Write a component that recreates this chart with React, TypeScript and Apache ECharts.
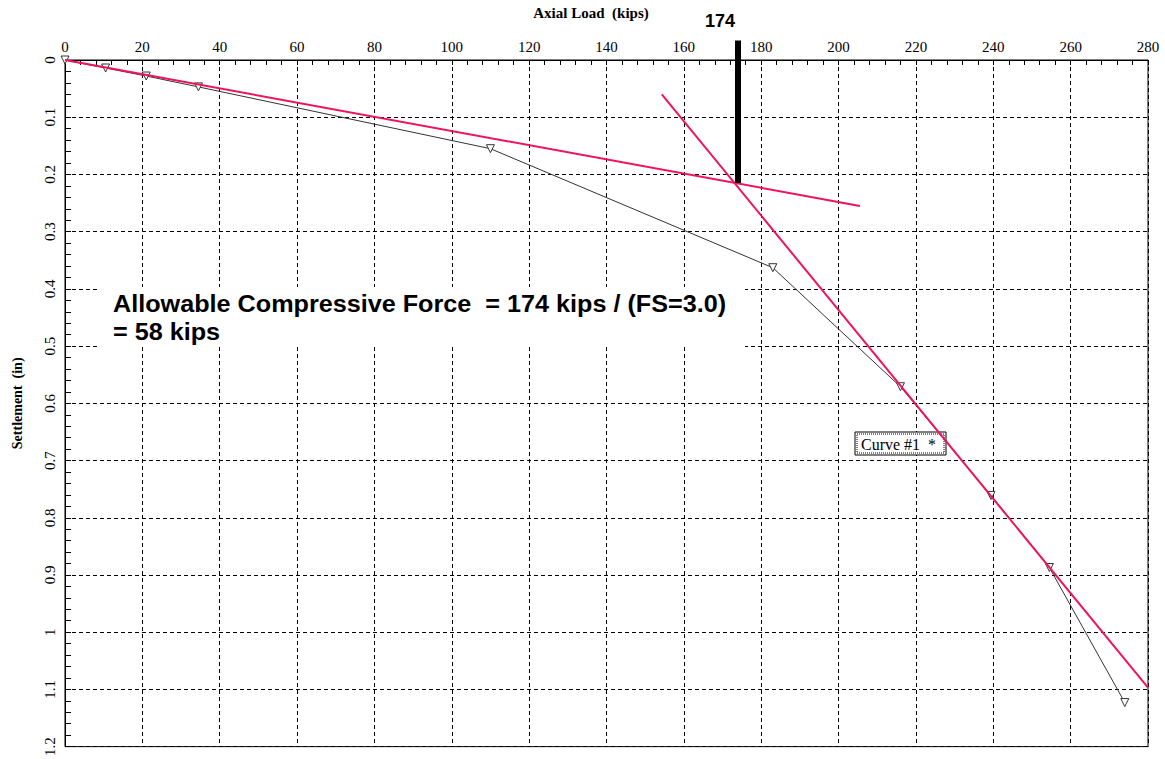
import React, { useEffect, useRef } from "react";
import * as echarts from "echarts";

const loads = [0, 10.5, 21, 34.5, 110, 183, 216, 239.4, 254.5, 274];
const settlements = [0, 0.014, 0.028, 0.047, 0.155, 0.363, 0.571, 0.761, 0.887, 1.123];

const tangentA = [
  [0, 0],
  [205.5, 0.255],
];
const tangentB = [
  [154.3, 0.06],
  [280, 1.097],
];
const failureLoad = 174;
const failureLine = [
  [174, -0.034],
  [174, 0.215],
];

const xTitle = "Axial Load  (kips)";
const yTitle = "Settlement  (in)";
const note1 = "Allowable Compressive Force  = 174 kips / (FS=3.0)";
const note2 = "= 58 kips";
const legendText = "Curve #1  *";

const RED = "#f0125f";
const SERIF = "'Liberation Serif', 'DejaVu Serif', serif";
const SANS = "'Liberation Sans', Arial, sans-serif";

export default function App() {
  const ref = useRef<HTMLDivElement>(null);
  useEffect(() => {
    if (!ref.current) return;
    const chart = echarts.init(ref.current, undefined, { renderer: "svg" });
    const gridLine = { show: true, lineStyle: { color: "#000", type: [4, 3], width: 1 } };
    chart.setOption({
      animation: false,
      backgroundColor: "#fff",
      grid: {
        left: 65,
        top: 60,
        right: 17,
        bottom: 12,
        show: true,
        borderColor: "#000",
        borderWidth: 1,
        backgroundColor: "transparent",
      },
      xAxis: {
        type: "value",
        position: "top",
        min: 0,
        max: 280,
        interval: 20,
        axisLine: { show: true, lineStyle: { color: "#000", width: 1 } },
        axisTick: { show: true, inside: true, length: 5, lineStyle: { color: "#000" } },
        minorTick: { show: true, splitNumber: 5, length: 5, lineStyle: { color: "#000" } },
        splitLine: gridLine,
        axisLabel: { color: "#000", fontFamily: SERIF, fontSize: 15, margin: 6 },
      },
      yAxis: {
        type: "value",
        inverse: true,
        min: 0,
        max: 1.2,
        interval: 0.1,
        axisLine: { show: true, lineStyle: { color: "#000", width: 1 } },
        axisTick: { show: true, inside: true, length: 6, lineStyle: { color: "#000" } },
        minorTick: { show: true, splitNumber: 5, length: 6, lineStyle: { color: "#000" } },
        splitLine: gridLine,
        axisLabel: {
          color: "#000",
          fontFamily: SERIF,
          fontSize: 15,
          rotate: 90,
          margin: 8,
        },
        name: yTitle,
        nameLocation: "middle",
        nameRotate: 90,
        nameGap: 41,
        nameTextStyle: { color: "#000", fontFamily: SERIF, fontSize: 14, fontWeight: "bold" },
      },
      series: [
        {
          type: "line",
          data: loads.map((l, i) => [l, settlements[i]]),
          symbol: "triangle",
          symbolRotate: 180,
          symbolSize: 8,
          itemStyle: { color: "#fff", borderColor: "#333", borderWidth: 1 },
          lineStyle: { color: "#333", width: 1 },
          z: 3,
        },
        {
          type: "line",
          data: tangentA,
          symbol: "none",
          lineStyle: { color: RED, width: 2 },
          z: 4,
        },
        {
          type: "line",
          data: tangentB,
          symbol: "none",
          lineStyle: { color: RED, width: 2 },
          z: 4,
        },
        {
          type: "line",
          data: failureLine,
          symbol: "none",
          clip: false,
          lineStyle: { color: "#000", width: 6, cap: "butt" },
          z: 5,
        },
      ],
    });

    const p = (x: number, y: number) => chart.convertToPixel({ gridIndex: 0 }, [x, y]) as number[];
    const lbl = p(failureLoad, -0.034);
    chart.setOption({
      graphic: [
        {
          type: "text",
          x: 591,
          y: 13,
          style: {
            text: xTitle,
            fill: "#000",
            font: `bold 15px ${SERIF}`,
            textAlign: "center",
            textVerticalAlign: "middle",
          },
        },
        {
          type: "text",
          x: lbl[0] - 18,
          y: lbl[1] - 20,
          style: {
            text: String(failureLoad),
            fill: "#000",
            font: `bold 18px ${SANS}`,
            textAlign: "center",
            textVerticalAlign: "middle",
          },
        },
        {
          type: "rect",
          shape: { x: 100, y: 287, width: 645, height: 60 },
          style: { fill: "#fff" },
          z: 1,
        },
        {
          type: "text",
          x: 113,
          y: 304,
          scaleX: 1.05,
          style: {
            text: note1,
            fill: "#000",
            font: `bold 24px ${SANS}`,
            textVerticalAlign: "middle",
          },
          z: 6,
        },
        {
          type: "text",
          x: 113,
          y: 332,
          scaleX: 1.05,
          style: {
            text: note2,
            fill: "#000",
            font: `bold 24px ${SANS}`,
            textVerticalAlign: "middle",
          },
          z: 6,
        },
        {
          type: "rect",
          shape: { x: 855, y: 432, width: 91, height: 23 },
          style: { fill: "#fff", stroke: "#000", lineWidth: 1 },
          z: 2,
        },
        {
          type: "rect",
          shape: { x: 857, y: 434, width: 87, height: 19 },
          style: { fill: "#fff", stroke: "#000", lineWidth: 1, lineDash: [1, 1] },
          z: 2,
        },
        {
          type: "text",
          x: 861,
          y: 444,
          style: {
            text: legendText,
            fill: "#000",
            font: `16px ${SERIF}`,
            textVerticalAlign: "middle",
          },
          z: 2,
        },
      ],
    });
    return () => chart.dispose();
  }, []);
  return (
    <div
      ref={ref}
      style={{ position: "fixed", left: 0, top: 0, width: 1165, height: 759, background: "#fff" }}
    />
  );
}
